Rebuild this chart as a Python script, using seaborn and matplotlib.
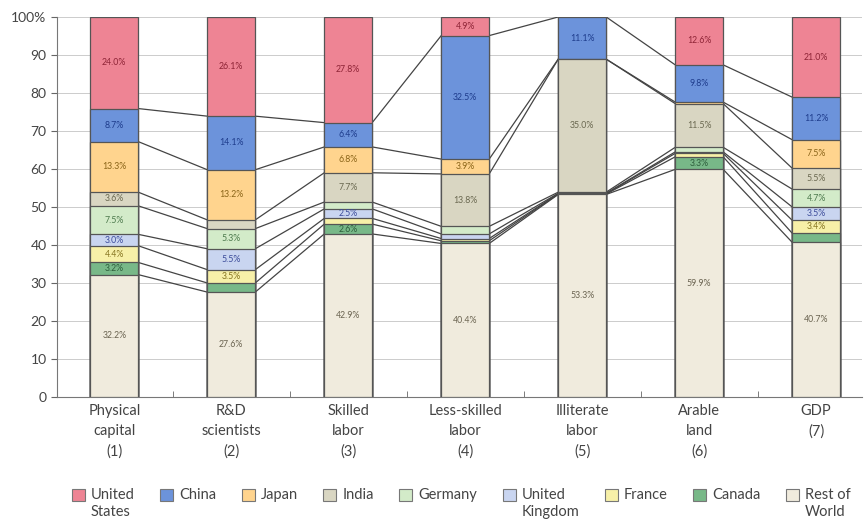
import matplotlib
matplotlib.use("Agg")
import matplotlib.pyplot as plt
import seaborn as sns
import numpy as np
from matplotlib.patches import Patch, Rectangle
from matplotlib.legend_handler import HandlerPatch
from matplotlib.ticker import FuncFormatter

# Kategorien (x-Achse)
categories = ["Physical\ncapital\n(1)", "R&D\nscientists\n(2)", "Skilled\nlabor\n(3)",
              "Less-skilled\nlabor\n(4)", "Illiterate\nlabor\n(5)", "Arable\nland\n(6)", "GDP\n(7)"]

# Anteile in %, von oben nach unten gestapelt
united_states = [24.0, 26.1, 27.8, 4.9, 0.0, 12.6, 21.0]
china = [8.7, 14.1, 6.4, 32.5, 11.1, 9.8, 11.2]
japan = [13.3, 13.2, 6.8, 3.9, 0.0, 0.4, 7.5]
india = [3.6, 2.3, 7.7, 13.8, 35.0, 11.5, 5.5]
germany = [7.5, 5.3, 1.8, 2.0, 0.3, 1.2, 4.7]
united_kingdom = [3.0, 5.5, 2.5, 1.2, 0.1, 0.4, 3.5]
france = [4.4, 3.5, 1.5, 0.6, 0.1, 0.9, 3.4]
canada = [3.2, 2.4, 2.6, 0.7, 0.1, 3.3, 2.4]
rest_of_world = [32.2, 27.6, 42.9, 40.4, 53.3, 59.9, 40.7]

series_names = ["United\nStates", "China\n ", "Japan\n ", "India\n ", "Germany\n ",
                "United\nKingdom", "France\n ", "Canada\n ", "Rest of\nWorld"]
series = [united_states, china, japan, india, germany, united_kingdom, france, canada, rest_of_world]
fills = ["#EE8494", "#6C93DB", "#FFD48E", "#D9D6C2", "#D3EBC9",
         "#C9D5F0", "#F7F0A8", "#78B888", "#F0EBDD"]
textcols = ["#8E2436", "#1E3C8C", "#8A6418", "#6A6850", "#4D7A4D",
            "#3C4C9A", "#857420", "#2E5E3C", "#6A6350"]

plt.rcParams['font.family'] = ['Lato', 'DejaVu Sans']

fig = plt.figure(figsize=(8.67, 5.24), dpi=100)
ax = fig.add_axes([0.0657, 0.2424, 0.9283, 0.7252])

bar_w = 0.41
n = len(categories)
x = np.arange(n)

# kumulierte Hoehen von unten
vals = np.array(series[::-1])          # Rest zuerst
cum = np.cumsum(vals, axis=0)           # Oberkanten jeder Schicht
tops = cum[::-1]                        # gleiche Reihenfolge wie series
bottoms = tops - np.array(series)

# gestapelte Balken: groesste kumulierte Hoehe zuerst zeichnen
for i in range(len(series)):
    sns.barplot(x=categories, y=tops[i], color=fills[i], width=bar_w,
                edgecolor="#555555", linewidth=0.9, saturation=1, ax=ax, zorder=3)

# Verbindungslinien zwischen den Balken
for i in range(1, len(series)):
    for j in range(n - 1):
        ax.plot([j + bar_w / 2, j + 1 - bar_w / 2], [tops[i][j], tops[i][j + 1]],
                color="#444444", lw=0.9, zorder=2)

# Beschriftungen in den Segmenten
for i in range(len(series)):
    for j in range(n):
        v = series[i][j]
        if v >= 2.45:
            ax.text(j, bottoms[i][j] + v / 2, f"{v:.1f}%", ha="center", va="center",
                    fontsize=6.3, color=textcols[i], zorder=5)

ax.set_xlim(-0.49, 6.39)
ax.set_ylim(0, 100)
ax.set_yticks(range(0, 101, 10))
ax.yaxis.set_major_formatter(FuncFormatter(lambda v, p: "100%" if v == 100 else f"{int(v)}"))
ax.set_xticks(x)
ax.set_xticklabels(categories, linespacing=1.55)
ax.set_xticks(np.arange(0.5, n - 0.5, 1), minor=True)
ax.tick_params(axis="x", which="major", length=0, pad=5, labelsize=10.5, labelcolor="#444444")
ax.tick_params(axis="x", which="minor", length=4, direction="in", color="#666666")
ax.tick_params(axis="y", length=4, labelsize=10, labelcolor="#444444", color="#666666")
ax.set_xlabel("")
ax.set_ylabel("")
ax.grid(axis="y", color="#CCCCCC", lw=0.7, zorder=0)
ax.set_axisbelow(True)
for s in ["top", "right"]:
    ax.spines[s].set_visible(False)
for s in ["left", "bottom"]:
    ax.spines[s].set_color("#777777")


# Legendensymbol auf Hoehe der ersten Textzeile
def top_square(legend, orig_handle, xdescent, ydescent, width, height, fontsize):
    return Rectangle((-xdescent, -ydescent + 0.62 * fontsize), width, height)


handles = [Patch(facecolor=fills[i], edgecolor="#777777", lw=0.8) for i in range(len(series))]
fig.legend(handles, series_names, ncol=9, loc="upper center", bbox_to_anchor=(0.532, 0.093),
           frameon=False, fontsize=10.5, handlelength=0.9, handleheight=0.9,
           handletextpad=0.4, columnspacing=1.75, labelcolor="#444444",
           handler_map={Patch: HandlerPatch(patch_func=top_square)})

fig.savefig("out.png", dpi=100)
